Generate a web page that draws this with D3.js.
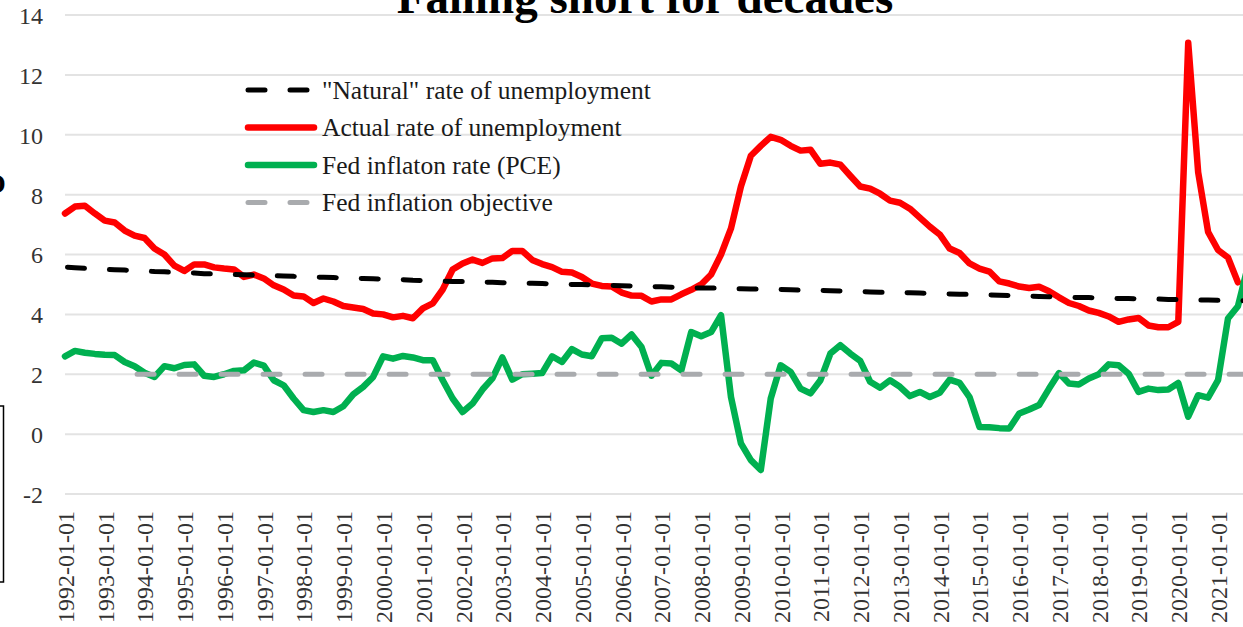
<!DOCTYPE html>
<html>
<head>
<meta charset="utf-8">
<script src="https://cdn.jsdelivr.net/npm/d3@7"></script>
<style>
	body { margin: 0; background: #fff; }
	svg { display: block; }
	svg text { font-family: 'Liberation Serif', 'DejaVu Serif', serif; }
</style>
</head>
<body>
<div id="chart"></div>
<script>
// quarterly series, 1992Q1 .. 2021Q4
var years = d3.range(1992, 2022);
var months = ["01", "04", "07", "10"];

var actualRate = [
	7.37, 7.60, 7.63, 7.37, 7.13, 7.07, 6.80, 6.63, 6.55, 6.20, 6.00, 5.63,
	5.45, 5.67, 5.67, 5.57, 5.53, 5.50, 5.25, 5.33, 5.20, 4.97, 4.83, 4.63,
	4.60, 4.38, 4.53, 4.43, 4.28, 4.23, 4.18, 4.03, 4.00, 3.90, 3.95, 3.87,
	4.20, 4.37, 4.83, 5.50, 5.70, 5.83, 5.72, 5.87, 5.88, 6.12, 6.12, 5.82,
	5.68, 5.58, 5.42, 5.40, 5.25, 5.03, 4.95, 4.93, 4.73, 4.63, 4.62, 4.43,
	4.50, 4.50, 4.67, 4.82, 5.00, 5.33, 6.00, 6.87, 8.27, 9.30, 9.63, 9.93,
	9.83, 9.63, 9.47, 9.50, 9.03, 9.07, 9.00, 8.63, 8.27, 8.20, 8.03, 7.80,
	7.73, 7.53, 7.23, 6.93, 6.67, 6.20, 6.05, 5.70, 5.53, 5.43, 5.10, 5.03,
	4.93, 4.88, 4.92, 4.77, 4.57, 4.38, 4.28, 4.13, 4.05, 3.93, 3.75, 3.83,
	3.88, 3.63, 3.57, 3.57, 3.75, 13.07, 8.75, 6.75, 6.15, 5.90, 5.07
];

var naturalRate = [
	5.58, 5.56, 5.54, 5.52, 5.50, 5.49, 5.48, 5.46, 5.45, 5.43, 5.42, 5.40,
	5.39, 5.38, 5.36, 5.35, 5.34, 5.33, 5.32, 5.31, 5.30, 5.29, 5.28, 5.27,
	5.26, 5.25, 5.24, 5.23, 5.22, 5.21, 5.20, 5.19, 5.18, 5.17, 5.16, 5.14,
	5.13, 5.12, 5.11, 5.10, 5.10, 5.09, 5.08, 5.07, 5.06, 5.05, 5.04, 5.04,
	5.03, 5.02, 5.01, 5.00, 5.00, 4.99, 4.98, 4.97, 4.96, 4.95, 4.94, 4.93,
	4.92, 4.91, 4.90, 4.89, 4.88, 4.88, 4.87, 4.86, 4.86, 4.85, 4.84, 4.84,
	4.83, 4.82, 4.81, 4.81, 4.80, 4.79, 4.78, 4.77, 4.76, 4.75, 4.74, 4.74,
	4.73, 4.72, 4.71, 4.70, 4.69, 4.68, 4.67, 4.67, 4.66, 4.65, 4.64, 4.63,
	4.62, 4.61, 4.60, 4.59, 4.58, 4.57, 4.56, 4.56, 4.55, 4.54, 4.53, 4.53,
	4.52, 4.51, 4.51, 4.50, 4.50, 4.49, 4.48, 4.48, 4.47, 4.46, 4.46, 4.45
];

var inflationPCE = [
	2.60, 2.78, 2.72, 2.68, 2.65, 2.64, 2.41, 2.27, 2.05, 1.91, 2.27, 2.20,
	2.31, 2.33, 1.95, 1.91, 2.00, 2.11, 2.13, 2.39, 2.29, 1.80, 1.63, 1.19,
	0.80, 0.74, 0.80, 0.74, 0.93, 1.33, 1.58, 1.91, 2.60, 2.52, 2.61, 2.56,
	2.47, 2.47, 1.80, 1.19, 0.74, 1.02, 1.49, 1.86, 2.56, 1.82, 2.00, 2.02,
	2.04, 2.60, 2.41, 2.84, 2.66, 2.60, 3.20, 3.22, 3.02, 3.33, 2.91, 1.95,
	2.38, 2.36, 2.13, 3.41, 3.27, 3.41, 3.97, 1.24, -0.31, -0.87, -1.20, 1.19,
	2.30, 2.08, 1.52, 1.36, 1.80, 2.69, 2.97, 2.69, 2.45, 1.75, 1.55, 1.80,
	1.58, 1.27, 1.41, 1.24, 1.38, 1.82, 1.71, 1.24, 0.24, 0.23, 0.20, 0.19,
	0.69, 0.82, 0.97, 1.52, 2.04, 1.69, 1.66, 1.86, 2.00, 2.33, 2.30, 2.02,
	1.41, 1.52, 1.47, 1.49, 1.71, 0.58, 1.30, 1.22, 1.80, 3.86, 4.27, 5.60
];

var objective = [
	{date: "1993-10-01", value: 2},
	{date: "2021-10-01", value: 2}
];

var yTicks = [-2, 0, 2, 4, 6, 8, 10, 12, 14];

var legendItems = [
	{label: "\"Natural\" rate of unemployment", color: "#000000", dashed: true},
	{label: "Actual rate of unemployment", color: "#ff0000", dashed: false},
	{label: "Fed inflaton rate (PCE)", color: "#00b050", dashed: false},
	{label: "Fed inflation objective", color: "#a9abae", dashed: true}
];

var width = 1243,
	height = 627,
	font = "'Liberation Serif', 'DejaVu Serif', serif";

// category labels, one per quarter
var quarters = [];
years.forEach(function(yr){
	months.forEach(function(m){
		quarters.push(yr + "-" + m + "-01");
	});
});
var janTicks = quarters.filter(function(q){ return q.slice(5, 7) == "01"; });

function toPoints(values){
	return values.map(function(v, i){ return {date: quarters[i], value: v}; });
}

var svg = d3.select("#chart")
	.append("svg")
	.attr("width", width)
	.attr("height", height);

var x = d3.scalePoint()
	.domain(quarters)
	.range([65, 65 + 9.94 * (quarters.length - 1)]);

var y = d3.scaleLinear()
	.domain([-2, 14])
	.range([494, 15]);

// gridlines
svg.append("g")
	.selectAll("line")
	.data(yTicks)
	.enter()
	.append("line")
	.attr("x1", x.range()[0])
	.attr("x2", x.range()[1])
	.attr("y1", function(d){ return y(d); })
	.attr("y2", function(d){ return y(d); })
	.attr("stroke", "#e3e3e3")
	.attr("stroke-width", 2);

// y axis
var yAxis = svg.append("g")
	.attr("transform", "translate(43,0)")
	.call(d3.axisLeft(y).tickValues(yTicks).tickSize(0).tickPadding(0).tickFormat(function(d){ return String(d); }));
yAxis.select(".domain").remove();
yAxis.attr("font-family", null).attr("font-size", null);
yAxis.selectAll("text")
	.style("font-family", font)
	.style("font-size", "24px")
	.attr("fill", "#333")
	.attr("dy", "0.35em");

// x axis, rotated labels
var xAxis = svg.append("g")
	.attr("transform", "translate(0,511)")
	.call(d3.axisBottom(x).tickValues(janTicks).tickSize(0));
xAxis.select(".domain").remove();
xAxis.attr("font-family", null).attr("font-size", null);
xAxis.selectAll("text")
	.style("font-family", font)
	.style("font-size", "24px")
	.attr("fill", "#333")
	.attr("x", 0)
	.attr("y", 0)
	.attr("dy", "0.35em")
	.attr("transform", "rotate(-90)")
	.style("text-anchor", "end");

var line = d3.line()
	.x(function(d){ return x(d.date); })
	.y(function(d){ return y(d.value); });

function drawSeries(data, color, w, dashed){
	var p = svg.append("path")
		.datum(data)
		.attr("d", line)
		.attr("fill", "none")
		.attr("stroke", color)
		.attr("stroke-width", w)
		.attr("stroke-linejoin", "round")
		.attr("stroke-linecap", "round");
	if(dashed){
		p.attr("stroke-dasharray", "17,25")
			.attr("stroke-dashoffset", -2.5);
	}
	return p;
}

drawSeries(toPoints(actualRate), "#ff0000", 6.5, false);
drawSeries(toPoints(inflationPCE), "#00b050", 6.5, false);
drawSeries(toPoints(naturalRate), "#000000", 5, true);
drawSeries(objective, "#a9abae", 5, true);

// legend
var legend = svg.append("g");
legendItems.forEach(function(item, i){
	var ly = 90 + i * 37.5;
	var l = legend.append("line")
		.attr("x1", 248)
		.attr("x2", 314)
		.attr("y1", ly)
		.attr("y2", ly)
		.attr("stroke", item.color)
		.attr("stroke-width", item.dashed ? 5 : 6.5)
		.attr("stroke-linecap", "round");
	if(item.dashed) l.attr("stroke-dasharray", "17,25");
	legend.append("text")
		.attr("x", 322)
		.attr("y", ly)
		.attr("dy", "0.35em")
		.style("font-size", "25.5px")
		.attr("fill", "#1a1a1a")
		.text(item.label);
});

// title (cut off at the top, as in the source)
svg.append("text")
	.attr("x", 645)
	.attr("y", 13)
	.attr("text-anchor", "middle")
	.style("font-size", "47px")
	.attr("font-weight", "bold")
	.attr("fill", "#000")
	.text("Falling short for decades");

// fragments of neighbouring objects at the left edge
svg.append("text")
	.attr("x", -16)
	.attr("y", 193)
	.style("font-size", "28px")
	.attr("font-weight", "bold")
	.text("O");
svg.append("rect")
	.attr("x", -50)
	.attr("y", 406)
	.attr("width", 53.5)
	.attr("height", 176)
	.attr("fill", "none")
	.attr("stroke", "#000")
	.attr("stroke-width", 1.5);
</script>
</body>
</html>
